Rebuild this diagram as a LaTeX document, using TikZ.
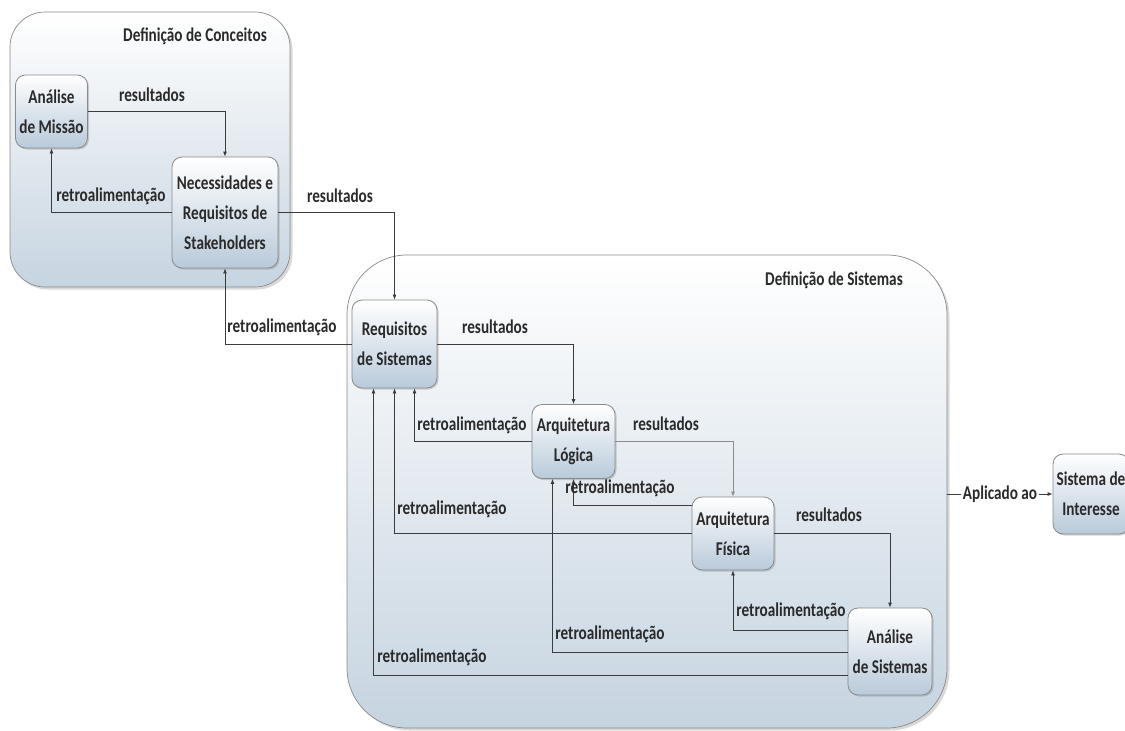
\documentclass[tikz,border=0pt]{standalone}
\usepackage{fontspec}
\setmainfont{Carlito}[FakeStretch=0.78]
\usetikzlibrary{arrows.meta,shadows}
\definecolor{txt}{HTML}{2A2A2A}
\definecolor{ln}{HTML}{3C3C3C}
\definecolor{lnlight}{HTML}{8C8C8C}
\definecolor{bord}{HTML}{8A8A8A}
\definecolor{nodebot}{HTML}{B9CADA}
\definecolor{outerbot}{HTML}{C6D4E0}
\tikzset{
  lbl/.style={font=\fontsize{19.5}{30}\selectfont\bfseries, text=txt, inner sep=1pt},
  procbox/.style={draw=bord, line width=0.8pt, rounded corners=10pt, top color=white, bottom color=nodebot,
    align=center, font=\fontsize{19.5}{30}\selectfont\bfseries, text=txt, inner sep=0pt,
    drop shadow={shadow xshift=1.5pt, shadow yshift=-1.5pt, opacity=0.35}},
  outerbox/.style={draw=bord, line width=0.7pt, top color=white, bottom color=outerbot, inner sep=0pt,
    drop shadow={shadow xshift=2.5pt, shadow yshift=-2.5pt, opacity=0.3}},
  arr/.style={draw=ln, line width=0.8pt, -{Latex[length=5pt,width=4pt]}},
}
\begin{document}
\begin{tikzpicture}[x=1pt,y=-1pt]
\useasboundingbox (0,0) rectangle (1125,731);
% outer groups
\node[outerbox, rounded corners=35pt, minimum width=280pt, minimum height=275pt] (conc) at (150,149.5) {};
\node[outerbox, rounded corners=60pt, minimum width=600pt, minimum height=473pt] (sys) at (647,491.5) {};
\node[lbl, anchor=east] (conctitle) at (268,36) {Definição de Conceitos};
\node[lbl, anchor=east] (systitle) at (904,280) {Definição de Sistemas};
% process nodes
\node[procbox, minimum width=72pt, minimum height=73pt] (mis) at (51.5,111.5) {Análise\\de Missão};
\node[procbox, minimum width=106pt, minimum height=111pt] (nec) at (225,212.5) {Necessidades e\\Requisitos de\\Stakeholders};
\node[procbox, minimum width=85pt, minimum height=88pt] (req) at (394.5,344) {Requisitos\\de Sistemas};
\node[procbox, minimum width=83pt, minimum height=74pt] (log) at (573.5,441.5) {Arquitetura\\Lógica};
\node[procbox, minimum width=82pt, minimum height=73pt] (fis) at (733,533.5) {Arquitetura\\Física};
\node[procbox, minimum width=84pt, minimum height=87pt] (ana) at (890,651.5) {Análise\\de Sistemas};
\node[procbox, minimum width=76pt, minimum height=80pt] (int) at (1091,494) {Sistema de\\Interesse};
% connectors
\draw[arr] (mis.east) -| (nec.north);
\draw[arr] (nec.west) -| (mis.south);
\draw[arr] (nec.east) -| (req.north);
\draw[arr] (req.west) -| (nec.south);
\draw[arr] (req.east) -| (log.north);
\draw[arr] (log.west) -| ([xshift=20pt]req.south);
\draw[arr, draw=lnlight] (log.east) -| (fis.north);
\draw[arr] ([yshift=28pt]fis.west) -| (log.south);
\draw[arr] (fis.west) -| (req.south);
\draw[arr] (fis.east) -| (ana.north);
\draw[arr] ([yshift=21pt]ana.west) -| (fis.south);
\draw[arr] ([yshift=-0.5pt]ana.west) -| ([xshift=-21pt]log.south);
\draw[arr] ([yshift=-23.5pt]ana.west) -| ([xshift=-21pt]req.south);
\draw[arr] (sys.east |- int.west) -- node[lbl, fill=white, inner sep=1.5pt] (apl) {Aplicado ao} (int.west);
% labels
\node[lbl] (l1) at (152,95) {resultados};
\node[lbl] (l2) at (111,196) {retroalimentação};
\node[lbl] (l3) at (340,196) {resultados};
\node[lbl] (l4) at (282,327) {retroalimentação};
\node[lbl] (l5) at (495,327) {resultados};
\node[lbl] (l6) at (472,425) {retroalimentação};
\node[lbl] (l7) at (666,424) {resultados};
\node[lbl] (l8) at (620,488) {retroalimentação};
\node[lbl] (l9) at (452,509) {retroalimentação};
\node[lbl] (l10) at (829,515) {resultados};
\node[lbl] (l11) at (791,611) {retroalimentação};
\node[lbl] (l12) at (610,634) {retroalimentação};
\node[lbl] (l13) at (432,657) {retroalimentação};
\end{tikzpicture}
\end{document}
